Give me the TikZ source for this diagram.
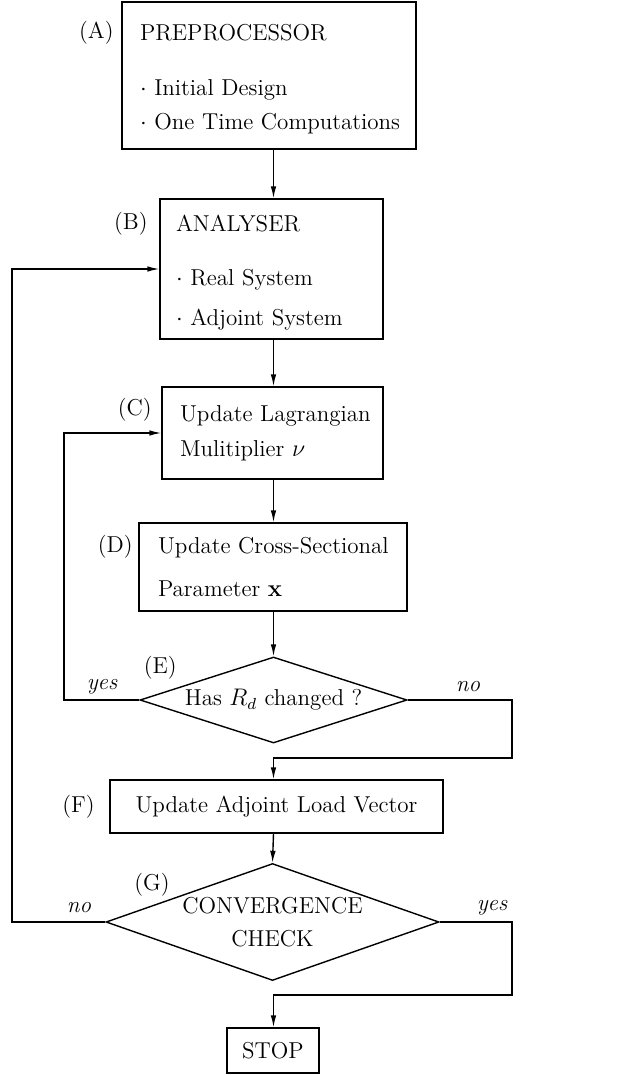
\documentclass[tikz,border=0pt]{standalone}
\usetikzlibrary{shapes.geometric,arrows.meta}
\begin{document}
\begin{tikzpicture}[x=0.5pt,y=-0.5pt,
  every node/.style={font=\fontsize{11.5}{17}\selectfont},
  box/.style={draw,line width=0.7pt,rectangle,align=left,inner ysep=0pt},
  dia/.style={draw,line width=0.7pt,diamond,inner sep=0pt,align=center},
  tag/.style={anchor=east,inner sep=0pt},
  ans/.style={inner sep=0pt,font=\fontsize{11.5}{17}\selectfont\itshape},
  arr/.style={line width=0.7pt,-{Latex[length=6pt,width=2.8pt]}},
  ln/.style={line width=0.7pt}]
\useasboundingbox (0,0) rectangle (632,1075);
\coordinate (mid) at (273.5,0);
% boxes
\node[box,inner xsep=9pt,text width=129pt,minimum height=73.5pt] (A) at (269,75.5)
  {\rule{0pt}{12pt}\mbox{PREPROCESSOR}\\[10.5pt]\mbox{$\cdot$\ Initial Design}\\\mbox{$\cdot$\ One Time Computations}};
\node[box,inner xsep=8pt,text width=95.5pt,minimum height=70pt,font=\fontsize{11.5}{20}\selectfont] (B) at (271.5,269)
  {\rule{0pt}{12pt}\mbox{ANALYSER}\\[7pt]\mbox{$\cdot$\ Real System}\\\mbox{$\cdot$\ Adjoint System}};
\node[box,inner xsep=9pt,text width=92.5pt,minimum height=46pt,font=\fontsize{11.5}{17.5}\selectfont] (C) at (272.5,433)
  {\mbox{Update Lagrangian}\\\mbox{Mulitiplier $\nu$}};
\node[box,inner xsep=9.5pt,text width=115pt,minimum height=44pt,font=\fontsize{11.5}{17.5}\selectfont] (D) at (273,567)
  {\mbox{Update Cross-Sectional}\\[4pt]\mbox{Parameter $\mathbf{x}$}};
\node[dia,minimum width=133.5pt,minimum height=43pt,aspect=3.1] (E) at (273.5,700)
  {Has $R_d$ changed ?};
\node[box,align=center,minimum width=166.5pt,minimum height=26.5pt] (F) at (276.5,806.5)
  {Update Adjoint Load Vector};
\node[dia,minimum width=166.5pt,minimum height=58.5pt,aspect=2.85,font=\fontsize{11.5}{16.5}\selectfont] (G) at (272.5,922)
  {CONVERGENCE\\CHECK};
\node[box,align=center,minimum width=46pt,minimum height=22.5pt] (S) at (273,1050.5) {STOP};
% tags
\node[tag] (tA) at (114,33) {(A)};
\node[tag] (tB) at (148,224) {(B)};
\node[tag] (tC) at (152,410) {(C)};
\node[tag] (tD) at (133,547) {(D)};
\node[tag] (tE) at (177,668) {(E)};
\node[tag] (tF) at (95,807) {(F)};
\node[tag] (tG) at (170,885) {(G)};
% answers
\node[ans] (ey) at (102,687) {yes};
\node[ans] (en) at (468,687) {no};
\node[ans] (gn) at (79,908) {no};
\node[ans] (gy) at (492,908) {yes};
% coordinates
\coordinate (lb) at (12,269);
\coordinate (lc) at (64,433);
\coordinate (rn) at (512,758);
\coordinate (ry) at (512,995);
% connectors
\draw[arr] (A.south -| mid) -- (B.north -| mid);
\draw[arr] (B.south -| mid) -- (C.north -| mid);
\draw[arr] (C.south -| mid) -- (D.north -| mid);
\draw[arr] (D.south -| mid) -- (E.north);
\draw[arr] (E.west) -| (lc) -- (C.west);
\draw[arr] (E.east) -| (rn) -| (F.north -| mid);
\draw[arr] (F.south -| mid) -- (G.north);
\draw[arr] (G.west) -| (lb) -- (B.west);
\draw[arr] (G.east) -| (ry) -| (S.north -| mid);
\end{tikzpicture}
\end{document}
